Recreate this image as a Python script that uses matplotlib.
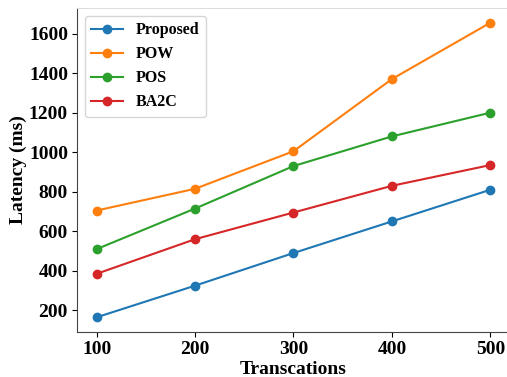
import numpy as np
import matplotlib.pyplot as plt

plt.rcParams['font.family'] = ['Liberation Serif', 'DejaVu Serif']
plt.rcParams['font.weight'] = 'bold'

transactions = [100, 200, 300, 400, 500]
proposed = [165, 325, 490, 650, 810]
pow_vals = [705, 815, 1005, 1370, 1655]
pos_vals = [510, 715, 930, 1080, 1200]
ba2c = [385, 560, 695, 830, 935]

fig = plt.figure(figsize=(5.07, 3.77), dpi=100)
# right spine sits just past the picture edge, like the cropped original
ax = fig.add_axes([77 / 507, 45 / 377, 433 / 507, 324 / 377])

ax.plot(transactions, proposed, marker='o', markersize=6, lw=1.5, label='Proposed')
ax.plot(transactions, pow_vals, marker='o', markersize=6, lw=1.5, label='POW')
ax.plot(transactions, pos_vals, marker='o', markersize=6, lw=1.5, label='POS')
ax.plot(transactions, ba2c, marker='o', markersize=6, lw=1.5, label='BA2C')

ax.set_xticks(transactions)
ax.set_yticks([200, 400, 600, 800, 1000, 1200, 1400, 1600])
ax.tick_params(labelsize=14, pad=3)
for lab in ax.get_xticklabels() + ax.get_yticklabels():
    lab.set_fontweight('bold')

ax.set_xlabel('Transcations', fontsize=14, fontweight='bold')
ax.set_ylabel('Latency (ms)', fontsize=14, fontweight='bold')
ax.xaxis.set_label_coords(0.5, -0.088)
ax.yaxis.set_label_coords(-0.115, 0.5)

for s in ax.spines.values():
    s.set_color('#444444')
ax.spines['top'].set_color('#dddddd')
ax.spines['right'].set_visible(False)

ax.legend(loc='upper left', prop={'size': 11.5, 'weight': 'bold'})

fig.savefig('out.png', dpi=100)
